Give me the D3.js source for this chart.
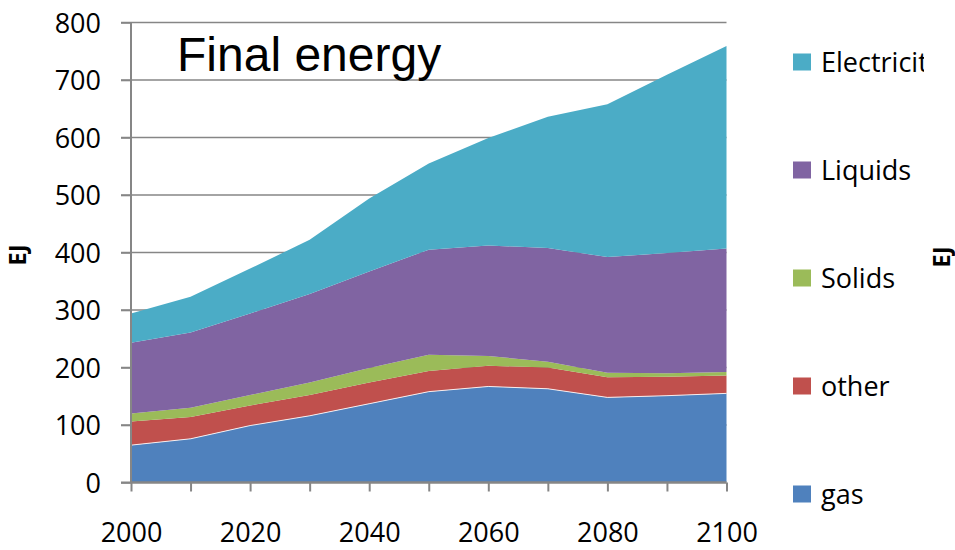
<!DOCTYPE html>
<html>
<head>
<meta charset="utf-8">
<script src="https://cdn.jsdelivr.net/npm/d3@7"></script>
<style>
  html, body { margin: 0; padding: 0; background: #fff; }
  svg { display: block; }
</style>
</head>
<body>
<svg id="chart" width="955" height="550"></svg>
<script>
// Final energy by carrier, EJ, one value per decade
const years = [2000, 2010, 2020, 2030, 2040, 2050, 2060, 2070, 2080, 2090, 2100];
const gas         = [65, 76, 99, 116, 137, 158, 167, 163, 148, 151, 155];
const other       = [41, 38, 35, 36, 37, 36, 36, 37, 35, 33, 31];
const solids      = [14, 16, 18, 22, 25, 28, 17, 10, 8, 6, 6];
const liquids     = [123, 131, 142, 154, 168, 183, 192, 198, 201, 209, 215];
const electricity = [51, 62, 78, 94, 127, 150, 187, 228, 266, 310, 352];

const seriesNames = ["gas", "other", "Solids", "Liquids", "Electricity"];
const seriesValues = [gas, other, solids, liquids, electricity];
const seriesColors = ["#4F81BD", "#C0504D", "#9BBB59", "#8064A2", "#4BACC6"];
const legendOrder = ["Electricity", "Liquids", "Solids", "other", "gas"];
const yTicks = [0, 100, 200, 300, 400, 500, 600, 700, 800];
const xTickLabels = [2000, 2020, 2040, 2060, 2080, 2100];

const svg = d3.select("#chart");
const plotLeft = 131, plotRight = 726.5, plotTop = 22.5, plotBottom = 482.5;

const x = d3.scaleLinear().domain([2000, 2100]).range([plotLeft, plotRight]);
const y = d3.scaleLinear().domain([0, 800]).range([plotBottom, plotTop]);

const labelFont = "'Open Sans', 'Noto Sans', sans-serif";
const axisGrey = "#868686";

// rows for the stack
const rows = years.map((yr, i) => {
  const r = { year: yr };
  seriesNames.forEach((n, k) => { r[n] = seriesValues[k][i]; });
  return r;
});
const stacked = d3.stack().keys(seriesNames)(rows);

// gridlines (extend left as tick marks)
svg.append("g").selectAll("line").data(yTicks.filter(t => t > 0)).join("line")
  .attr("x1", plotLeft - 10).attr("x2", plotRight)
  .attr("y1", d => y(d)).attr("y2", d => y(d))
  .attr("stroke", axisGrey).attr("stroke-width", 1.6);

// stacked areas
const area = d3.area()
  .x(d => x(d.data.year))
  .y0(d => y(d[0]))
  .y1(d => y(d[1]));

svg.append("g").selectAll("path").data(stacked).join("path")
  .attr("d", area)
  .attr("fill", (d, i) => seriesColors[i]);

// thin light edge along the top of the gas layer
svg.append("path")
  .datum(stacked[0])
  .attr("d", d3.line().x(d => x(d.data.year)).y(d => y(d[1])))
  .attr("fill", "none").attr("stroke", "#ffffff").attr("stroke-opacity", 0.85).attr("stroke-width", 1);

// y axis
const yAxis = d3.axisLeft(y).tickValues(yTicks).tickSize(10).tickFormat(d3.format("d"));
const gy = svg.append("g").attr("transform", `translate(${plotLeft},0)`).call(yAxis);
gy.select(".domain").attr("stroke", axisGrey).attr("stroke-width", 2).attr("d", `M-10,${plotBottom}H0V${plotTop}`);
gy.selectAll(".tick line").attr("stroke", axisGrey).attr("stroke-width", 1.6);
gy.selectAll(".tick text")
  .attr("x", -30).attr("dy", "0.36em")
  .attr("font-family", labelFont).attr("font-size", 27).attr("fill", "#000");

// x axis: a tick every decade, labels every twenty years
const xAxis = d3.axisBottom(x).tickValues(years).tickSize(9)
  .tickFormat(d => xTickLabels.includes(d) ? d : "");
const gx = svg.append("g").attr("transform", `translate(0,${plotBottom})`).call(xAxis);
gx.select(".domain").attr("stroke", axisGrey).attr("stroke-width", 2.4).attr("d", `M${plotLeft},0H${plotRight}`);
gx.selectAll(".tick line").attr("stroke", axisGrey).attr("stroke-width", 2);
gx.selectAll(".tick text")
  .attr("y", 59).attr("dy", 0)
  .attr("font-family", labelFont).attr("font-size", 27).attr("fill", "#000");

// chart title inside plot area
svg.append("text")
  .attr("x", 177).attr("y", 71)
  .attr("font-family", "'Liberation Sans', Arial, sans-serif")
  .attr("font-size", 48).attr("fill", "#000")
  .text("Final energy");

// axis unit labels
[[16, 255], [940, 257]].forEach(([cx, cy]) => {
  svg.append("text")
    .attr("transform", `translate(${cx},${cy}) rotate(-90)`)
    .attr("text-anchor", "middle").attr("dominant-baseline", "central")
    .attr("font-family", labelFont).attr("font-weight", "bold")
    .attr("font-size", 24).attr("fill", "#000")
    .text("EJ");
});

// legend, clipped on the right
svg.append("defs").append("clipPath").attr("id", "legendClip")
  .append("rect").attr("x", 780).attr("y", 0).attr("width", 144).attr("height", 550);

const legendY = d3.scalePoint().domain(legendOrder).range([62, 494]);
const legend = svg.append("g").attr("clip-path", "url(#legendClip)");
const item = legend.selectAll("g").data(legendOrder).join("g")
  .attr("transform", d => `translate(793,${legendY(d)})`);
item.append("rect")
  .attr("x", 0).attr("y", -8.5).attr("width", 18).attr("height", 17)
  .attr("fill", d => seriesColors[seriesNames.indexOf(d)]);
item.append("text")
  .attr("x", 28).attr("y", 10)
  .attr("font-family", labelFont).attr("font-size", 27).attr("fill", "#000")
  .text(d => d);
</script>
</body>
</html>
